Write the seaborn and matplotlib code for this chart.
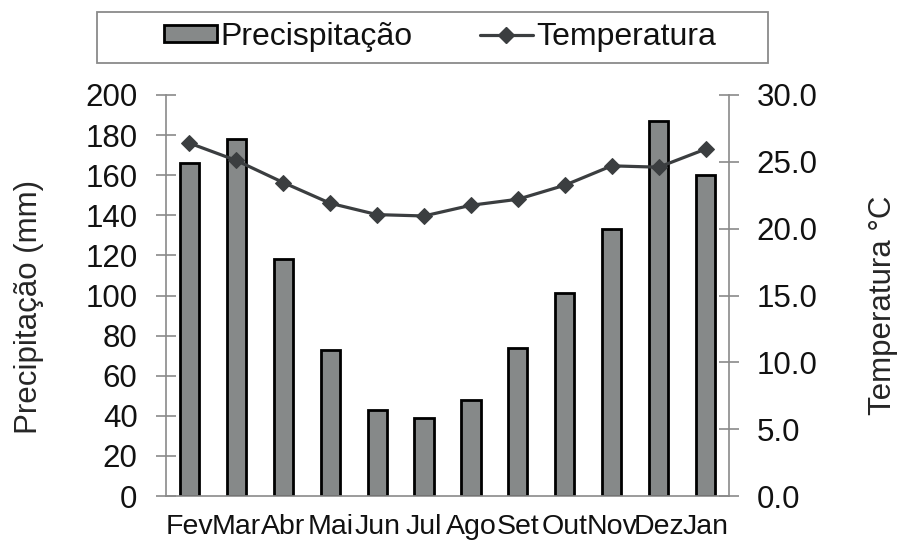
import numpy as np
import pandas as pd
import matplotlib
matplotlib.use("Agg")
import matplotlib.pyplot as plt
from matplotlib.patches import Rectangle, Patch
from matplotlib.lines import Line2D
from matplotlib.ticker import FormatStrFormatter, FixedLocator
import seaborn as sns

months = ["Fev", "Mar", "Abr", "Mai", "Jun", "Jul", "Ago", "Set", "Out", "Nov", "Dez", "Jan"]
precip = [166, 178, 118, 73, 43, 39, 48, 74, 101, 133, 187, 160]
temp = [26.4, 25.1, 23.45, 21.9, 21.05, 20.95, 21.75, 22.2, 23.25, 24.7, 24.6, 25.95]
precip_ticks = [0, 20, 40, 60, 80, 100, 120, 140, 160, 180, 200]
temp_ticks = [0, 5, 10, 15, 20, 25, 30]

sns.set_style("white")
plt.rcParams["font.family"] = ["Liberation Sans", "DejaVu Sans"]
plt.rcParams["text.color"] = "#111111"

BAR = "#868989"
LINE = "#3b3e40"
AX = "#8a8a8a"

fig = plt.figure(figsize=(8.99, 5.4), dpi=100)
W, H = 899, 540
L, R, T, B = 166, 729, 95, 496
ax = fig.add_axes([L / W, 1 - B / H, (R - L) / W, (B - T) / H])

df = pd.DataFrame({"Mes": months, "Precipitacao": precip, "Temperatura": temp})
sns.barplot(data=df, x="Mes", y="Precipitacao", color=BAR, saturation=1,
            edgecolor="black", linewidth=2, width=0.41, ax=ax, zorder=2)

ax2 = ax.twinx()
sns.lineplot(x=np.arange(len(months)), y=df["Temperatura"], ax=ax2, color=LINE,
             marker="D", markersize=8.5, markeredgecolor=LINE, linewidth=2.3, zorder=3)

ax.set_xlim(-0.5, len(months) - 0.5)
ax.set_ylim(0, 200)
ax2.set_ylim(0, 30)

ax.set_yticks(precip_ticks)
ax2.set_yticks(temp_ticks)
ax2.yaxis.set_major_formatter(FormatStrFormatter("%.1f"))

ax.set_xticks(np.arange(len(months)))
ax.set_xticklabels(months)
ax.xaxis.set_minor_locator(FixedLocator(np.arange(-0.5, len(months), 1.0)))
ax.tick_params(axis="x", which="major", length=0, pad=13, labelsize=20.5, labelcolor="#111111")
ax.tick_params(axis="x", which="minor", direction="inout", length=9, width=1.2, color=AX)
ax.tick_params(axis="y", direction="inout", length=14, width=1.2, color=AX, pad=13.5,
               labelsize=22.5, labelcolor="#111111")
ax2.tick_params(axis="y", direction="inout", length=14, width=1.2, color=AX, pad=13,
                labelsize=22.5, labelcolor="#111111")

for s in ["top", "right"]:
    ax.spines[s].set_visible(False)
for s in ["top", "left", "bottom"]:
    ax2.spines[s].set_visible(False)
for a, sides in [(ax, ["left", "bottom"]), (ax2, ["right"])]:
    for s in sides:
        a.spines[s].set_color(AX)
        a.spines[s].set_linewidth(1.2)

ax.set_xlabel("")
ax.set_ylabel("Precipitação (mm)", fontsize=22.5)
ax.yaxis.label.set_va("center")
ax.yaxis.label.set_ha("center")
ax.yaxis.set_label_coords((29 - L) / (R - L), 0.472)
ax2.set_ylabel("Temperatura °C", fontsize=22.5)
ax2.yaxis.label.set_va("center")
ax2.yaxis.label.set_ha("center")
ax2.yaxis.set_label_coords((883 - L) / (R - L), 0.476)

handles = [Patch(facecolor=BAR, edgecolor="black", linewidth=2),
           Line2D([], [], color=LINE, marker="D", markersize=8.5, markeredgecolor=LINE, linewidth=2.3)]
fig.legend(handles, ["Precispitação", "Temperatura"], loc="center",
           bbox_to_anchor=(440 / W, 1 - 37 / H), ncol=2, frameon=False,
           fontsize=23, handlelength=1.66, handleheight=0.45, handletextpad=0.1,
           columnspacing=2.1, borderpad=0.1)
fig.patches.append(Rectangle((97 / W, 1 - 63 / H), 671 / W, 51 / H, transform=fig.transFigure,
                             fill=False, edgecolor=AX, linewidth=1.3))

fig.savefig("out.png", dpi=100)
